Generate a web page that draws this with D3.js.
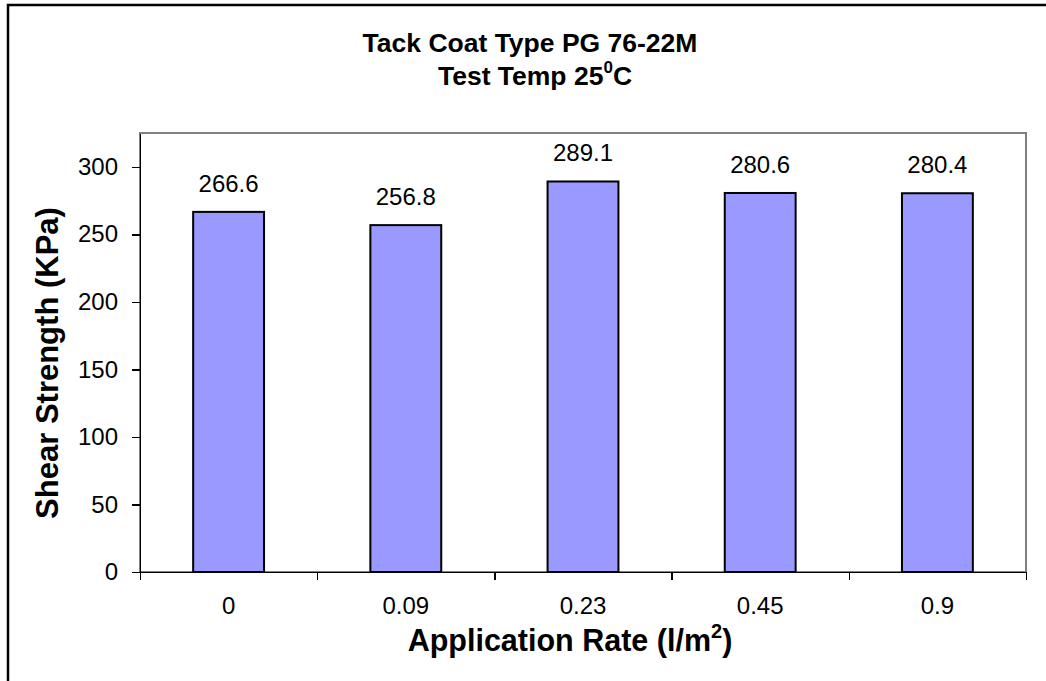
<!DOCTYPE html>
<meta charset="utf-8">

<head>
<style>
  body { margin: 0; background: #fff; }
  svg { display: block; font-family: 'Liberation Sans', Arial, sans-serif; }
  .axis path, .axis line { stroke: #000; shape-rendering: crispEdges; }
  .axis text { font-size: 24px; fill: #000; }
</style>
</head>

<body>
<div class="chart"></div>
<script src="https://d3js.org/d3.v7.min.js" charset="utf-8"></script>

<script>
const rates = ['0', '0.09', '0.23', '0.45', '0.9'];
const shearStrength = [266.6, 256.8, 289.1, 280.6, 280.4];
const yTicks = [0, 50, 100, 150, 200, 250, 300];

const width = 1046;
const height = 681;
const plot = { left: 140, right: 1026, top: 133, bottom: 572 };

const svg = d3.select('.chart')
  .append('svg')
  .attr('width', width)
  .attr('height', height);

// outer chart border (only top/left visible, rest is cropped)
svg.append('rect')
  .attr('x', 8)
  .attr('y', 5)
  .attr('width', 1200)
  .attr('height', 900)
  .attr('fill', 'none')
  .attr('stroke', '#000')
  .attr('stroke-width', 2.5);

const xScale = d3.scaleBand()
  .domain(rates)
  .range([plot.left, plot.right])
  .paddingInner(0.6)
  .paddingOuter(0.3);

// category boundaries for the tick marks (Excel puts them between bars)
const xEdge = d3.scaleLinear()
  .domain([0, rates.length])
  .range([plot.left, plot.right]);

const yScale = d3.scaleLinear()
  .domain([0, 325])
  .range([plot.bottom, plot.top]);

// plot area frame
svg.append('rect')
  .attr('x', plot.left)
  .attr('y', plot.top)
  .attr('width', plot.right - plot.left)
  .attr('height', plot.bottom - plot.top)
  .attr('fill', 'none')
  .attr('stroke', '#808080')
  .attr('stroke-width', 2);

svg.selectAll('.bar').data(shearStrength)
  .enter()
  .append('rect')
  .attr('class', 'bar')
  .attr('x', (d, i) => xScale(rates[i]))
  .attr('width', xScale.bandwidth())
  .attr('y', d => yScale(d))
  .attr('height', d => plot.bottom - yScale(d))
  .attr('fill', '#9999ff')
  .attr('stroke', '#000')
  .attr('stroke-width', 2);

svg.selectAll('.label').data(shearStrength)
  .enter()
  .append('text')
  .attr('class', 'label')
  .attr('x', (d, i) => xScale(rates[i]) + xScale.bandwidth() / 2)
  .attr('y', d => yScale(d) - 20)
  .attr('text-anchor', 'middle')
  .style('font-size', '24px')
  .text(d => d.toFixed(1));

// y axis
svg.append('g')
  .attr('class', 'y axis')
  .attr('transform', `translate(${plot.left}, 0)`)
  .call(d3.axisLeft(yScale).tickValues(yTicks).tickSize(8).tickSizeOuter(0).tickPadding(14))
  .selectAll('path, line').attr('stroke-width', 1.5);

// x axis: tick marks on the category edges
svg.append('g')
  .attr('class', 'x axis')
  .attr('transform', `translate(0, ${plot.bottom})`)
  .call(d3.axisBottom(xEdge).ticks(rates.length).tickSize(8).tickSizeOuter(0).tickFormat(''))
  .selectAll('path, line').attr('stroke-width', 1.5);

// x axis: category labels
svg.append('g')
  .attr('class', 'x axis labels')
  .attr('transform', `translate(0, ${plot.bottom})`)
  .call(d3.axisBottom(xScale).tickSize(0).tickPadding(25))
  .call(g => g.select('.domain').remove());

// titles
const title = svg.append('text')
  .attr('text-anchor', 'middle')
  .style('font-size', '26.5px')
  .style('font-weight', 'bold');
title.append('tspan').attr('x', 530).attr('y', 52).text('Tack Coat Type PG 76-22M');
const line2 = title.append('tspan').attr('x', 535).attr('y', 85);
line2.append('tspan').text('Test Temp 25');
line2.append('tspan').attr('dy', -12).style('font-size', '17px').text('0');
line2.append('tspan').attr('dy', 12).text('C');

const xTitle = svg.append('text')
  .attr('x', 570)
  .attr('y', 651)
  .attr('text-anchor', 'middle')
  .style('font-size', '30.5px')
  .style('font-weight', 'bold');
xTitle.append('tspan').text('Application Rate (l/m');
xTitle.append('tspan').attr('dy', -13).style('font-size', '20px').text('2');
xTitle.append('tspan').attr('dy', 13).text(')');

svg.append('text')
  .attr('transform', 'translate(58, 363) rotate(-90)')
  .attr('text-anchor', 'middle')
  .style('font-size', '31px')
  .style('font-weight', 'bold')
  .text('Shear Strength (KPa)');
</script>

</body>
